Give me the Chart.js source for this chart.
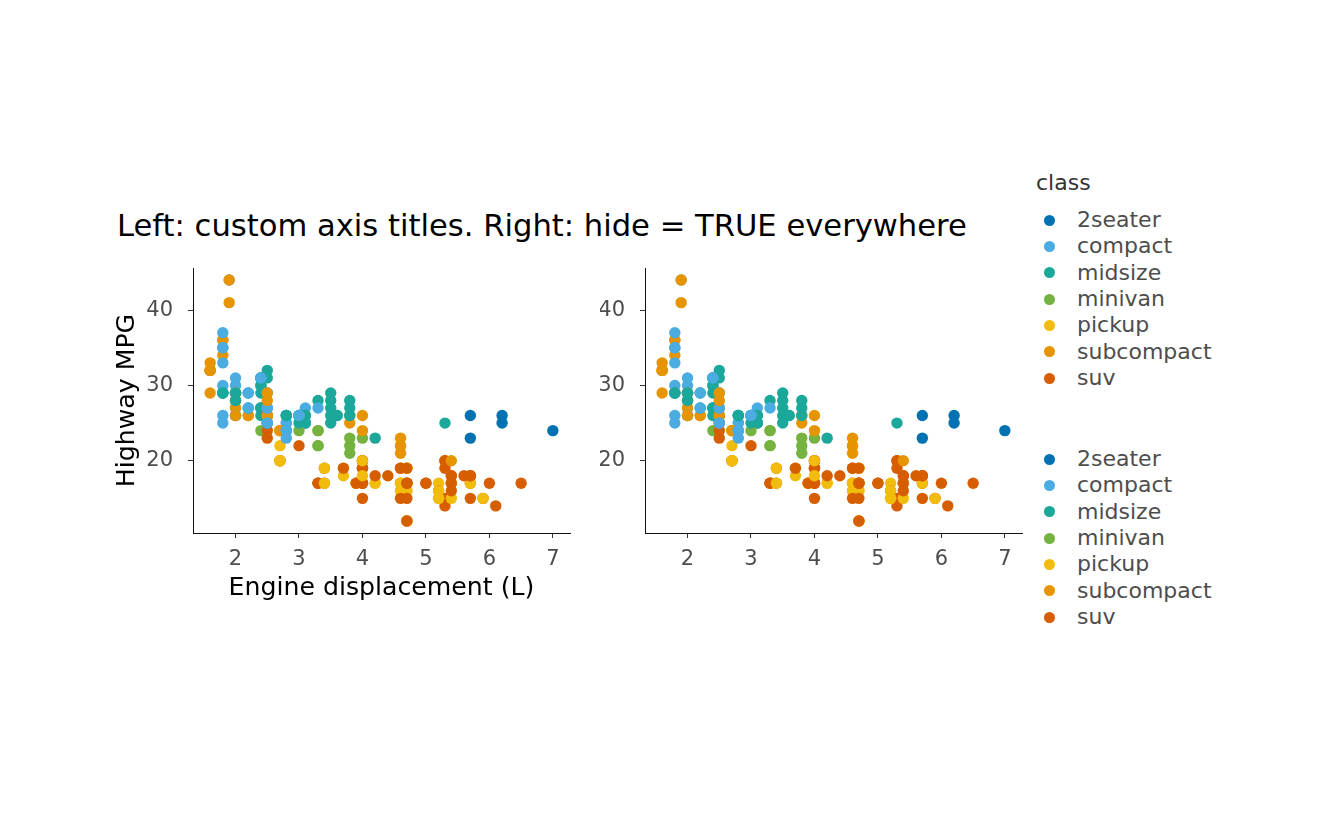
<!DOCTYPE html>
<html>
<head>
<meta charset="utf-8">
<script src="https://cdn.jsdelivr.net/npm/chart.js@4.4.1/dist/chart.umd.min.js"></script>
<style>
  body { margin: 0; background: #fff; width: 1344px; height: 830px; position: relative; overflow: hidden;
         font-family: "DejaVu Sans", sans-serif; }
  canvas { position: absolute; }
  #title { position: absolute; left: 117px; top: 210px; font-size: 30.6px; line-height: 31px; color: #000; white-space: nowrap; }
  .legend { position: absolute; left: 1036px; }
  .legend .head { font-size: 22px; line-height: 22px; color: #333; height: 22px; margin-bottom: 13px; }
  .legend .row { position: relative; height: 26.35px; }
  .legend .dot { position: absolute; left: 7.5px; top: 7.7px; width: 11px; height: 11px; border-radius: 50%; }
  .legend .lab { position: absolute; left: 41px; top: 1px; font-size: 22px; line-height: 24px; color: #4d4d4d; white-space: nowrap; }
</style>
</head>
<body>
<div id="title">Left: custom axis titles. Right: hide = TRUE everywhere</div>
<canvas id="left" width="480" height="370" style="left:100px;top:250px"></canvas>
<canvas id="right" width="432" height="370" style="left:600px;top:250px"></canvas>
<div class="legend" id="legend1" style="top:172px"></div>
<div class="legend" id="legend2" style="top:446px"></div>
<script>
// mpg data: engine displacement, highway mpg, class index (row order kept)
const classes = ['2seater', 'compact', 'midsize', 'minivan', 'pickup', 'subcompact', 'suv'];
const classColors = ['#0072b2', '#4aace1', '#1ba89a', '#76b23f', '#f2bc0c', '#e69500', '#d65e00'];

const displ = [
  1.8, 1.8, 2.0, 2.0, 2.8, 2.8, 3.1, 1.8, 1.8, 2.0, 2.0, 2.8, 2.8, 3.1, 3.1, 2.8, 3.1, 4.2,
  5.3, 5.3, 5.3, 5.7, 6.0, 5.7, 5.7, 6.2, 6.2, 7.0, 5.3, 5.3, 5.7, 6.5, 2.4, 2.4, 3.1, 3.5, 3.6,
  2.4, 3.0, 3.3, 3.3, 3.3, 3.3, 3.3, 3.8, 3.8, 3.8, 4.0,
  3.7, 3.7, 3.9, 3.9, 4.7, 4.7, 4.7, 5.2, 5.2,
  3.9, 4.7, 4.7, 4.7, 5.2, 5.7, 5.9,
  4.7, 4.7, 4.7, 4.7, 4.7, 4.7, 5.2, 5.2, 5.7, 5.9,
  4.6, 5.4, 5.4, 4.0, 4.0, 4.0, 4.0, 4.6, 5.0,
  4.2, 4.2, 4.6, 4.6, 4.6, 5.4, 5.4,
  3.8, 3.8, 4.0, 4.0, 4.6, 4.6, 4.6, 4.6, 5.4,
  1.6, 1.6, 1.6, 1.6, 1.6, 1.8, 1.8, 1.8, 2.0,
  2.4, 2.4, 2.4, 2.4, 2.5, 2.5, 3.3, 2.0, 2.0, 2.0, 2.0, 2.7, 2.7, 2.7,
  3.0, 3.7, 4.0, 4.7, 4.7, 4.7, 5.7, 6.1,
  4.0, 4.2, 4.4, 4.6, 5.4, 5.4, 5.4, 4.0, 4.0, 4.6, 5.0,
  2.4, 2.4, 2.5, 2.5, 3.5, 3.5, 3.0, 3.0, 3.5, 3.3, 3.3, 4.0, 5.6,
  3.1, 3.8, 3.8, 3.8, 5.3,
  2.5, 2.5, 2.5, 2.5, 2.5, 2.5, 2.2, 2.2, 2.5, 2.5, 2.5, 2.5, 2.5, 2.5,
  2.7, 2.7, 3.4, 3.4, 4.0, 4.7,
  2.2, 2.2, 2.4, 2.4, 3.0, 3.0, 3.5,
  2.2, 2.2, 2.4, 2.4, 3.0, 3.0, 3.3,
  1.8, 1.8, 1.8, 1.8, 1.8, 4.7, 5.7,
  2.7, 2.7, 2.7, 3.4, 3.4, 4.0, 4.0,
  2.0, 2.0, 2.0, 2.0, 2.8,
  1.9, 2.0, 2.0, 2.0, 2.0, 2.5, 2.5, 2.8, 2.8,
  1.9, 1.9, 2.0, 2.0, 2.5, 2.5,
  1.8, 1.8, 2.0, 2.0, 2.8, 2.8, 3.6
];
const hwy = [
  29, 29, 31, 30, 26, 26, 27, 26, 25, 28, 27, 25, 25, 25, 25, 24, 25, 23,
  20, 15, 20, 17, 17, 26, 23, 26, 25, 24, 19, 14, 15, 17, 27, 30, 26, 29, 26,
  24, 24, 22, 22, 24, 24, 17, 22, 21, 23, 23,
  19, 18, 17, 17, 19, 19, 12, 17, 15,
  17, 17, 12, 17, 16, 18, 15,
  16, 12, 17, 17, 16, 12, 15, 16, 17, 15,
  17, 17, 18, 17, 19, 17, 19, 19, 17,
  17, 17, 16, 16, 17, 15, 17,
  26, 25, 26, 24, 21, 22, 23, 22, 20,
  33, 32, 32, 29, 32, 34, 36, 36, 29,
  26, 27, 30, 31, 26, 26, 28, 26, 29, 28, 27, 24, 24, 24,
  22, 19, 20, 17, 12, 19, 18, 14,
  15, 18, 18, 15, 17, 16, 18, 17, 19, 19, 17,
  29, 27, 31, 32, 27, 26, 26, 25, 25, 17, 17, 20, 18,
  26, 26, 27, 28, 25,
  25, 24, 27, 25, 26, 23, 26, 26, 26, 26, 25, 27, 25, 27,
  20, 20, 19, 17, 20, 17,
  29, 27, 31, 31, 26, 26, 28,
  27, 29, 31, 31, 26, 26, 27,
  30, 33, 35, 37, 35, 15, 18,
  20, 20, 22, 17, 19, 18, 20,
  29, 26, 29, 29, 24,
  44, 29, 26, 29, 29, 29, 29, 23, 24,
  44, 41, 29, 26, 28, 29,
  29, 29, 28, 29, 26, 26, 26
];
const carClass = [
  1, 1, 1, 1, 1, 1, 1, 1, 1, 1, 1, 1, 1, 1, 1, 2, 2, 2,
  6, 6, 6, 6, 6, 0, 0, 0, 0, 0, 6, 6, 6, 6, 2, 2, 2, 2, 2,
  3, 3, 3, 3, 3, 3, 3, 3, 3, 3, 3,
  4, 4, 4, 4, 4, 4, 4, 4, 4,
  6, 6, 6, 6, 6, 6, 6,
  4, 4, 4, 4, 4, 4, 4, 4, 4, 4,
  6, 6, 6, 6, 6, 6, 6, 6, 6,
  4, 4, 4, 4, 4, 4, 4,
  5, 5, 5, 5, 5, 5, 5, 5, 5,
  5, 5, 5, 5, 5, 5, 5, 5, 5,
  2, 2, 2, 2, 2, 2, 2, 5, 5, 5, 5, 5, 5, 5,
  6, 6, 6, 6, 6, 6, 6, 6,
  6, 6, 6, 6, 6, 6, 6, 6, 6, 6, 6,
  2, 2, 2, 2, 2, 2, 2, 2, 2, 6, 6, 6, 6,
  2, 2, 2, 2, 2,
  6, 6, 6, 6, 6, 6, 5, 5, 5, 5, 1, 1, 1, 1,
  6, 6, 6, 6, 6, 6,
  2, 2, 2, 2, 2, 2, 2,
  1, 1, 1, 1, 1, 1, 1,
  1, 1, 1, 1, 1, 6, 6,
  4, 4, 4, 4, 4, 4, 4,
  1, 1, 1, 1, 1,
  1, 1, 1, 1, 1, 1, 1, 1, 1,
  5, 5, 5, 5, 5, 5,
  2, 2, 2, 2, 2, 2, 2
];

const xTicks = [2, 3, 4, 5, 6, 7];
const yTicks = [20, 30, 40];
const xTitle = 'Engine displacement (L)';
const yTitle = 'Highway MPG';

const points = displ.map((d, i) => ({ x: d, y: hwy[i] }));
const pointColors = carClass.map(c => classColors[c]);

function noPad(s) {
  s.paddingTop = 0; s.paddingBottom = 0; s.paddingLeft = 0; s.paddingRight = 0;
}

function makePanel(id, showTitles, yWidth) {
  const tickFont = { family: 'DejaVu Sans', size: 21 };
  const titleFont = { family: 'DejaVu Sans', size: 25.2 };
  return new Chart(document.getElementById(id), {
    type: 'scatter',
    data: {
      datasets: [{
        data: points,
        pointBackgroundColor: pointColors,
        pointBorderWidth: 0,
        pointRadius: 5.7,
        pointHoverRadius: 5.7,
        clip: false
      }]
    },
    options: {
      responsive: false,
      animation: false,
      events: [],
      layout: { padding: { top: 18, right: 10, left: 0, bottom: 0 } },
      plugins: { legend: { display: false }, tooltip: { enabled: false } },
      scales: {
        x: {
          type: 'linear', min: 1.33, max: 7.27,
          afterBuildTicks: s => { s.ticks = xTicks.map(v => ({ value: v })); },
          afterFit: s => { s.height = 87; noPad(s); },
          grid: { drawOnChartArea: false, drawTicks: true, tickLength: 5, tickColor: '#333', tickWidth: 1 },
          border: { display: true, color: '#111', width: 1 },
          ticks: { color: '#4d4d4d', font: tickFont, padding: 9, maxRotation: 0, autoSkip: false },
          title: { display: showTitles, text: xTitle, color: '#000', font: titleFont, padding: { top: 0, bottom: 16 } }
        },
        y: {
          type: 'linear', min: 10.4, max: 45.6,
          afterBuildTicks: s => { s.ticks = yTicks.map(v => ({ value: v })); },
          afterFit: s => { s.width = yWidth; noPad(s); },
          grid: { drawOnChartArea: false, drawTicks: true, tickLength: 5, tickColor: '#333', tickWidth: 1 },
          border: { display: true, color: '#111', width: 1 },
          ticks: { color: '#4d4d4d', font: tickFont, padding: 15, autoSkip: false },
          title: { display: showTitles, text: yTitle, color: '#000', font: titleFont, padding: { top: 12, bottom: 0 } }
        }
      }
    }
  });
}

makePanel('left', true, 93);
makePanel('right', false, 45);

function buildLegend(id, heading) {
  const box = document.getElementById(id);
  if (heading) {
    const h = document.createElement('div');
    h.className = 'head';
    h.textContent = heading;
    box.appendChild(h);
  }
  classes.forEach((name, i) => {
    const row = document.createElement('div');
    row.className = 'row';
    const dot = document.createElement('div');
    dot.className = 'dot';
    dot.style.background = classColors[i];
    const lab = document.createElement('div');
    lab.className = 'lab';
    lab.textContent = name;
    row.appendChild(dot);
    row.appendChild(lab);
    box.appendChild(row);
  });
}
buildLegend('legend1', 'class');
buildLegend('legend2', null);
</script>
</body>
</html>
